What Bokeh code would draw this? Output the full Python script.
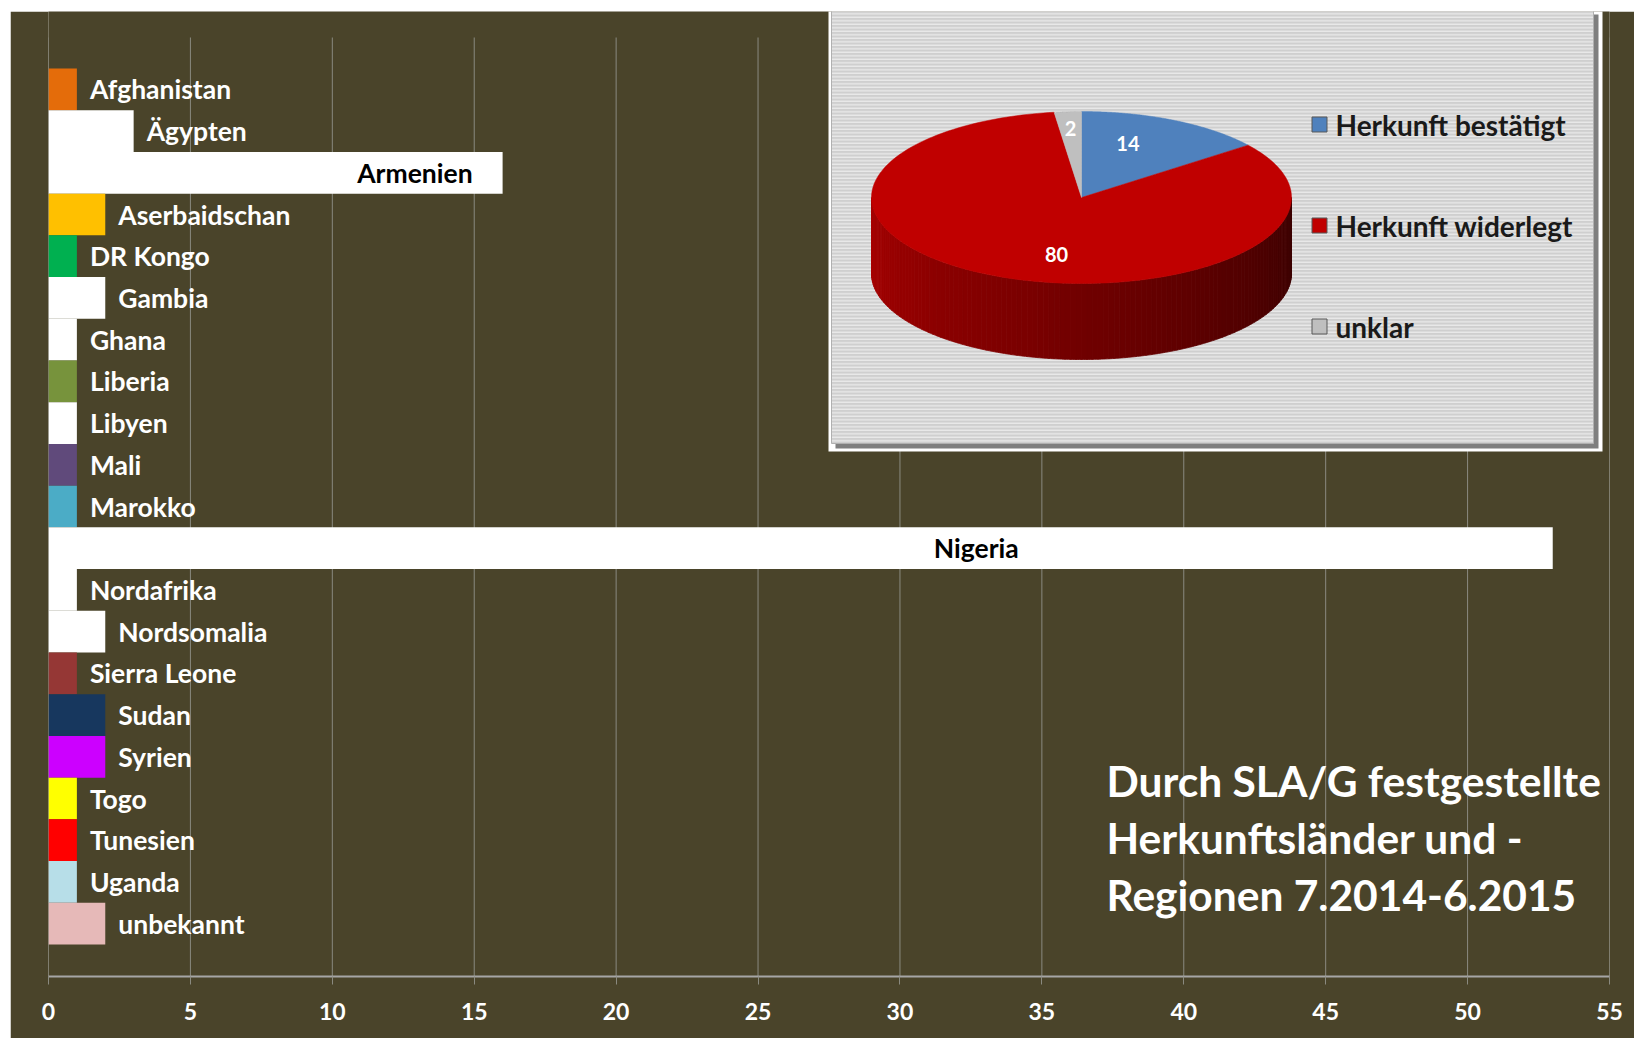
import numpy as np
from bokeh.plotting import figure
from bokeh.models import Range1d, FixedTicker, Spacer, ColumnDataSource
from bokeh.layouts import column, row
from bokeh.core.properties import value
from bokeh.embed import file_html
from bokeh.resources import INLINE

# ---------------- data ----------------
countries = ["Afghanistan", "Ägypten", "Armenien", "Aserbaidschan", "DR Kongo", "Gambia",
             "Ghana", "Liberia", "Libyen", "Mali", "Marokko", "Nigeria", "Nordafrika",
             "Nordsomalia", "Sierra Leone", "Sudan", "Syrien", "Togo", "Tunesien",
             "Uganda", "unbekannt"]
counts = [1, 3, 16, 2, 1, 2, 1, 1, 1, 1, 1, 53, 1, 2, 1, 2, 2, 1, 1, 1, 2]
bar_colors = ["#E46C0A", "#FFFFFF", "#FFFFFF", "#FFC000", "#00B050", "#FFFFFF",
              "#FFFFFF", "#77933C", "#FFFFFF", "#604A7B", "#4BACC6", "#FFFFFF", "#FFFFFF",
              "#FFFFFF", "#953735", "#17375E", "#CC00FF", "#FFFF00", "#FF0000",
              "#B7DEE8", "#E6B9B8"]
x_ticks = [0, 5, 10, 15, 20, 25, 30, 35, 40, 45, 50, 55]

pie_labels = ["Herkunft bestätigt", "Herkunft widerlegt", "unklar"]
pie_values = [14, 80, 2]
pie_colors = ["#4F81BD", "#C00000", "#BFBFBF"]

title_lines = ["Durch SLA/G festgestellte", "Herkunftsländer und -", "Regionen 7.2014-6.2015"]

# ---------------- style ----------------
BG = "#4A442A"
GRID = "#8A8A80"
FONT = value("Lato")
W, H = 1624, 1027          # figure size (page offset 10, 11)
OX, OY = 10, 11
ML, MR, MT, MB = 38, 25, 0, 62
# special label placement (inside long bars)
inside_labels = {"Armenien": -30, "Nigeria": -534}

n = len(countries)
y_pos = [n - 1 - i for i in range(n)]
px_per_unit = (944 - 68) / n
y_lo = -0.5 - (976 - 944) / px_per_unit
y_hi = (n - 0.5) + (68 - OY) / px_per_unit
grid_top = (n - 0.5) + (68 - 37) / px_per_unit

p = figure(width=W, height=H, output_backend="svg", toolbar_location=None,
           x_range=Range1d(0, 55), y_range=Range1d(y_lo, y_hi), y_axis_location=None,
           min_border_left=ML, min_border_right=MR, min_border_top=MT, min_border_bottom=MB,
           background_fill_color=BG, border_fill_color=BG, outline_line_color=None)
p.grid.visible = False

# pixel-space ranges for the inset / title
frame_l = OX + ML
frame_r = OX + W - MR
p.extra_x_ranges = {"px": Range1d(frame_l, frame_r)}
p.extra_y_ranges = {"py": Range1d(OY + H - MB, OY + MT)}

# grid lines
p.segment(x0=x_ticks, x1=x_ticks, y0=[y_lo] * len(x_ticks), y1=[grid_top] * len(x_ticks),
          line_color=GRID, line_width=1)

# bars
src = ColumnDataSource(dict(y=y_pos, v=counts, c=bar_colors, name=countries))
p.hbar(y="y", left=0, right="v", height=1.0, fill_color="c", line_color=None, source=src)

# bar labels
offs, aligns, tcols = [], [], []
for c in countries:
    if c in inside_labels:
        offs.append(inside_labels[c]); aligns.append("right"); tcols.append("#000000")
    else:
        offs.append(13); aligns.append("left"); tcols.append("#FFFFFF")
lsrc = ColumnDataSource(dict(x=counts, y=y_pos, t=countries, o=offs, a=aligns, c=tcols))
p.text(x="x", y="y", text="t", x_offset="o", text_align="a", text_color="c",
       text_baseline="middle", text_font=FONT, text_font_style="bold",
       text_font_size="26.5px", source=lsrc)

# x axis
ax = p.xaxis[0]
ax.ticker = FixedTicker(ticks=x_ticks)
ax.axis_line_color = "#A6A6A6"
ax.axis_line_width = 2
ax.major_tick_line_color = GRID
ax.major_tick_out = 8
ax.major_tick_in = 0
ax.minor_tick_line_color = None
ax.major_label_text_color = "#FFFFFF"
ax.major_label_text_font = "Lato"
ax.major_label_text_font_style = "bold"
ax.major_label_text_font_size = "23px"
ax.major_label_standoff = 18

# ---------------- inset pie ----------------
kw = dict(x_range_name="px", y_range_name="py")
p.quad(left=828, right=1602, top=0, bottom=451, fill_color="#FFFFFF", line_color=None, **kw)
p.quad(left=835, right=1598, top=14, bottom=448, fill_color="#7F7F7F", line_color=None, **kw)
p.quad(left=831, right=1593, top=9, bottom=443, fill_color="#CFCFCF", line_color="#B0B0B0",
       hatch_pattern="-", hatch_color="#F4F4F4", hatch_scale=3.5, hatch_weight=1, **kw)

cx, cy, rx, ry, T = 1081, 197, 210, 86, 76
total = float(sum(pie_values))
cum = np.concatenate([[0.0], np.cumsum(pie_values)]) / total
t_edges = -np.pi / 2 + 2 * np.pi * cum


def slice_index(t):
    rel = (t + np.pi / 2) % (2 * np.pi)
    for k in range(len(pie_values)):
        if 2 * np.pi * cum[k] <= rel < 2 * np.pi * cum[k + 1]:
            return k
    return len(pie_values) - 1


def darken(hexc, f):
    r, g, b = int(hexc[1:3], 16), int(hexc[3:5], 16), int(hexc[5:7], 16)
    return "#%02x%02x%02x" % (int(r * f), int(g * f), int(b * f))


# side (front half, t in [0, pi] in page coordinates)
ts = np.linspace(0, np.pi, 121)
sxs, sys_, scs = [], [], []
for j in range(len(ts) - 1):
    a = np.linspace(ts[j], ts[j + 1], 4)
    xt = cx + rx * np.cos(a)
    yt = cy + ry * np.sin(a)
    sxs.append(list(xt) + list(xt[::-1]))
    sys_.append(list(yt) + list((yt + T)[::-1]))
    mid = 0.5 * (ts[j] + ts[j + 1])
    k = slice_index(mid)
    f = 0.30 + 0.58 * (mid / np.pi)
    scs.append(darken(pie_colors[k], f))
p.patches(xs=sxs, ys=sys_, fill_color=scs, line_color=scs, line_width=0.8, **kw)

# top face
txs, tys = [], []
for k in range(len(pie_values)):
    a = np.linspace(t_edges[k], t_edges[k + 1], 200)
    txs.append([cx] + list(cx + rx * np.cos(a)))
    tys.append([cy] + list(cy + ry * np.sin(a)))
p.patches(xs=txs, ys=tys, fill_color=pie_colors, line_color=pie_colors, line_width=0.5, **kw)

# slice value labels
lab_frac = [(0.50, 0.70), (0.31, 0.72), (0.80, 0.80)]
mids = 0.5 * (t_edges[:-1] + t_edges[1:])
lx = [cx + fx * rx * np.cos(m) for (fx, fy), m in zip(lab_frac, mids)]
ly = [cy + fy * ry * np.sin(m) for (fx, fy), m in zip(lab_frac, mids)]
p.text(x=lx, y=ly, text=[str(v) for v in pie_values], text_color="#FFFFFF",
       text_align="center", text_baseline="middle", text_font=FONT,
       text_font_style="bold", text_font_size="20px", **kw)

# legend
leg_y = [124 + 101 * i for i in range(len(pie_labels))]
p.rect(x=[1319] * len(leg_y), y=leg_y, width=15, height=15, width_units="screen",
       height_units="screen", fill_color=pie_colors, line_color="#595959", line_width=1, **kw)
p.text(x=[1335] * len(leg_y), y=leg_y, text=pie_labels, text_color="#1A1A1A",
       text_baseline="middle", text_font=FONT, text_font_style="bold",
       text_font_size="28px", **kw)

# title
p.text(x=[1106] * 3, y=[780 + 57 * i for i in range(3)], text=title_lines,
       text_color="#FFFFFF", text_baseline="middle", text_font=FONT,
       text_font_style="bold", text_font_size="42.5px", **kw)

layout = column(Spacer(width=1634, height=OY), row(Spacer(width=OX, height=H), p))
open("out.html", "w").write(file_html(layout, INLINE))
